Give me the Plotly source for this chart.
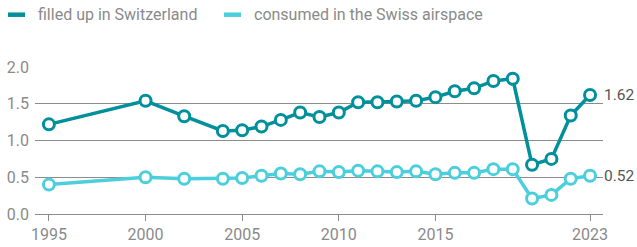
import plotly.graph_objects as go

years = [1995, 2000, 2002, 2004, 2005, 2006, 2007, 2008, 2009, 2010, 2011, 2012,
         2013, 2014, 2015, 2016, 2017, 2018, 2019, 2020, 2021, 2022, 2023]
filled_up = [1.22, 1.54, 1.33, 1.13, 1.14, 1.19, 1.28, 1.38, 1.32, 1.38, 1.52, 1.52,
             1.53, 1.54, 1.59, 1.67, 1.71, 1.81, 1.84, 0.67, 0.75, 1.34, 1.62]
consumed = [0.40, 0.50, 0.48, 0.48, 0.49, 0.52, 0.55, 0.54, 0.58, 0.57, 0.59, 0.58,
            0.57, 0.58, 0.54, 0.56, 0.56, 0.61, 0.61, 0.21, 0.26, 0.48, 0.52]
series_names = ["filled up in Switzerland", "consumed in the Swiss airspace"]
x_ticks = [1995, 2000, 2005, 2010, 2015, 2023]
y_ticks = [0.0, 0.5, 1.0, 1.5, 2.0]

DARK = "#00909c"
LIGHT = "#4ccfdc"
GRID = "#8c8c8c"
TXT = "#8a8a8a"
FONT = "Roboto"

L, R, T, B, W, H = 35, 34, 67, 33, 637, 247
PW, PH = W - L - R, H - T - B

fig = go.Figure()
for vals, col, name in [(filled_up, DARK, series_names[0]), (consumed, LIGHT, series_names[1])]:
    fig.add_trace(go.Scatter(
        x=years, y=vals, mode="lines+markers", name=name,
        line=dict(color=col, width=3.5),
        marker=dict(symbol="circle", size=11, color="white", line=dict(color=col, width=3)),
        showlegend=False, cliponaxis=False, hoverinfo="skip",
    ))
    fig.add_annotation(x=years[-1], y=vals[-1], text=f"{vals[-1]:.2f}", xref="x", yref="y",
                       xanchor="left", yanchor="middle", xshift=12, showarrow=False,
                       font=dict(family=FONT, size=15.5, color="#555555"))

# custom legend
sym_x = [6, 222]
text_x = [38, 254]
ly = (H - B - 14.7) / PH
for i, (col, name) in enumerate([(DARK, series_names[0]), (LIGHT, series_names[1])]):
    fig.add_shape(type="line", xref="paper", yref="paper",
                  x0=(sym_x[i] + 2 - L) / PW, x1=(sym_x[i] + 19 - L) / PW,
                  y0=ly, y1=ly, line=dict(color=col, width=4.5))
    fig.add_annotation(x=(text_x[i] - L) / PW, y=ly, xref="paper", yref="paper",
                       text=name, showarrow=False, xanchor="left", yanchor="middle",
                       xshift=-2, font=dict(family=FONT, size=16, color=TXT))

fig.update_layout(
    width=W, height=H,
    margin=dict(l=L, r=R, t=T, b=B, autoexpand=False),
    paper_bgcolor="white", plot_bgcolor="white",
    font=dict(family=FONT, size=16, color=TXT),
    hovermode=False,
    xaxis=dict(range=[1994.28, 2023.67], tickvals=x_ticks, ticktext=[str(t) for t in x_ticks],
               showgrid=False, zeroline=False, showline=False, automargin=False,
               ticks="outside", ticklen=6, tickcolor=GRID, tickwidth=1,
               tickfont=dict(family=FONT, size=16, color=TXT)),
    yaxis=dict(range=[0, 2], tickvals=y_ticks, tickformat=".1f", automargin=False,
               showgrid=True, gridcolor=GRID, gridwidth=1, zeroline=True, zerolinecolor=GRID,
               zerolinewidth=1, showline=False, ticks="", ticklabelstandoff=5,
               tickfont=dict(family=FONT, size=16, color=TXT)),
)

fig.write_html("out.html", config={"displayModeBar": False},
               post_script="document.body.style.margin='0';document.body.style.padding='0';")
